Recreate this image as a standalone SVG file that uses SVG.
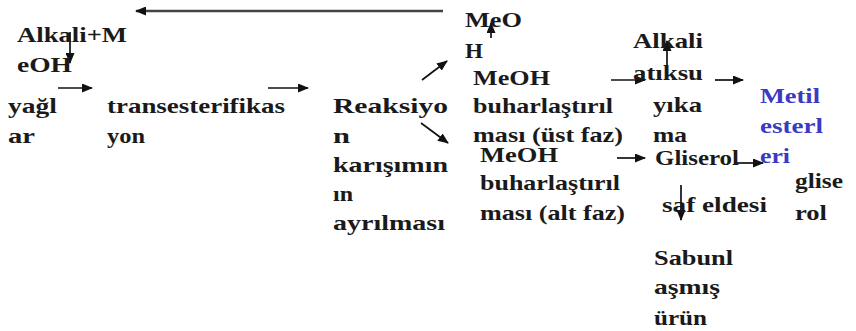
<svg xmlns="http://www.w3.org/2000/svg" width="856" height="331" viewBox="0 0 856 331">
<defs>
<marker id="ah" markerUnits="userSpaceOnUse" markerWidth="11" markerHeight="9" refX="10" refY="4.5" orient="auto">
<path d="M0,0 L11,4.5 L0,9 Z" fill="#111"/>
</marker>
<style>
text{font-family:"Liberation Serif","Times New Roman",serif;font-weight:bold;font-size:22px;fill:#1a1a1a}
.b{fill:#3a3ac4}
.c{stroke:#111;stroke-width:1.7;fill:none;marker-end:url(#ah)}
.t{stroke:#444;stroke-width:2.5}
</style>
</defs>
<rect width="856" height="331" fill="#fff"/>
<g id="connectors">
<line class="c t" x1="443" y1="11" x2="136" y2="11"/>
<line class="c" x1="70" y1="32" x2="70" y2="63"/>
<line class="c" x1="58" y1="88" x2="92" y2="88"/>
<line class="c" x1="268" y1="88" x2="308" y2="88"/>
<line class="c" x1="422" y1="80" x2="447" y2="61"/>
<line class="c" x1="421" y1="123" x2="448" y2="143"/>
<line class="c" x1="491" y1="38" x2="491" y2="23"/>
<line class="c" x1="611" y1="80" x2="645" y2="80"/>
<line class="c" x1="715" y1="80" x2="743" y2="80"/>
<line class="c" x1="667" y1="70" x2="667" y2="41"/>
<line class="c" x1="617" y1="158" x2="645" y2="158"/>
<line class="c" x1="737" y1="163" x2="763" y2="163"/>
<line class="c" x1="681" y1="185" x2="681" y2="220"/>
</g>
<g id="alkali-meoh">
<text x="17" y="42" textLength="110" lengthAdjust="spacingAndGlyphs">Alkali+M</text>
<text x="17" y="72" textLength="55" lengthAdjust="spacingAndGlyphs">eOH</text>
</g>
<g id="yaglar">
<text x="8" y="113" textLength="49" lengthAdjust="spacingAndGlyphs">yağl</text>
<text x="8" y="143" textLength="27" lengthAdjust="spacingAndGlyphs">ar</text>
</g>
<g id="transesterifikasyon">
<text x="107" y="113" textLength="178" lengthAdjust="spacingAndGlyphs">transesterifikas</text>
<text x="107" y="143" textLength="38" lengthAdjust="spacingAndGlyphs">yon</text>
</g>
<g id="reaksiyon">
<text x="333" y="113" textLength="115" lengthAdjust="spacingAndGlyphs">Reaksiyo</text>
<text x="333" y="143" textLength="17" lengthAdjust="spacingAndGlyphs">n</text>
<text x="333" y="172" textLength="115" lengthAdjust="spacingAndGlyphs">karışımın</text>
<text x="333" y="201" textLength="20" lengthAdjust="spacingAndGlyphs">ın</text>
<text x="333" y="230" textLength="112" lengthAdjust="spacingAndGlyphs">ayrılması</text>
</g>
<g id="meoh-top">
<text x="465" y="27" textLength="57" lengthAdjust="spacingAndGlyphs">MeO</text>
<text x="465" y="58" textLength="18" lengthAdjust="spacingAndGlyphs">H</text>
</g>
<g id="meoh-ust">
<text x="473" y="85" textLength="77" lengthAdjust="spacingAndGlyphs">MeOH</text>
<text x="473" y="113" textLength="140" lengthAdjust="spacingAndGlyphs">buharlaştırıl</text>
<text x="473" y="142" textLength="150" lengthAdjust="spacingAndGlyphs">ması (üst faz)</text>
</g>
<g id="meoh-alt">
<text x="480" y="162" textLength="78" lengthAdjust="spacingAndGlyphs">MeOH</text>
<text x="480" y="190" textLength="140" lengthAdjust="spacingAndGlyphs">buharlaştırıl</text>
<text x="480" y="220" textLength="145" lengthAdjust="spacingAndGlyphs">ması (alt faz)</text>
</g>
<g id="alkali-atiksu">
<text x="633" y="48" textLength="70" lengthAdjust="spacingAndGlyphs">Alkali</text>
<text x="633" y="80" textLength="70" lengthAdjust="spacingAndGlyphs">atıksu</text>
</g>
<g id="yikama">
<text x="653" y="112" textLength="49" lengthAdjust="spacingAndGlyphs">yıka</text>
<text x="653" y="142" textLength="34" lengthAdjust="spacingAndGlyphs">ma</text>
</g>
<g id="metil-esterleri">
<text class="b" x="760" y="103" textLength="60" lengthAdjust="spacingAndGlyphs">Metil</text>
<text class="b" x="760" y="133" textLength="63" lengthAdjust="spacingAndGlyphs">esterl</text>
<text class="b" x="760" y="163" textLength="30" lengthAdjust="spacingAndGlyphs">eri</text>
</g>
<g id="gliserol">
<text x="655" y="165" textLength="84" lengthAdjust="spacingAndGlyphs">Gliserol</text>
</g>
<g id="saf-eldesi">
<text x="662" y="212" textLength="105" lengthAdjust="spacingAndGlyphs">saf eldesi</text>
</g>
<g id="gliserol-urun">
<text x="795" y="188" textLength="48" lengthAdjust="spacingAndGlyphs">glise</text>
<text x="795" y="220" textLength="32" lengthAdjust="spacingAndGlyphs">rol</text>
</g>
<g id="sabunlasmis-urun">
<text x="654" y="265" textLength="79" lengthAdjust="spacingAndGlyphs">Sabunl</text>
<text x="654" y="294" textLength="66" lengthAdjust="spacingAndGlyphs">aşmış</text>
<text x="654" y="325" textLength="53" lengthAdjust="spacingAndGlyphs">ürün</text>
</g>
</svg>
